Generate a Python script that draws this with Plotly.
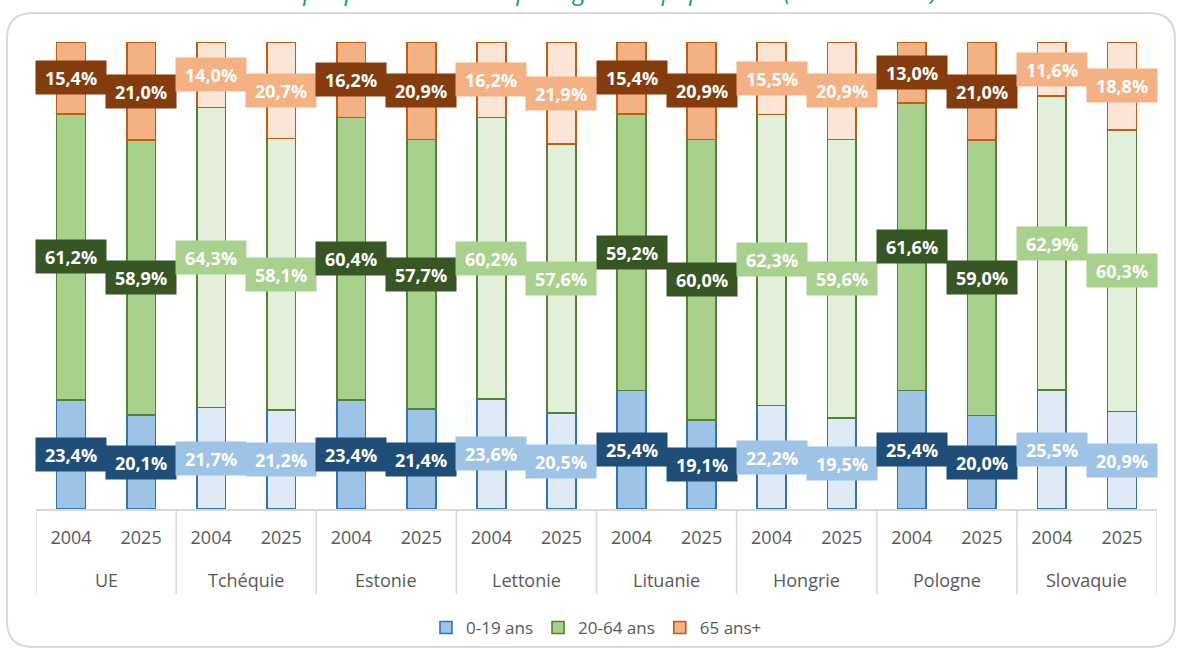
import plotly.graph_objects as go

# ---------------- data ----------------
countries = ["UE", "Tchéquie", "Estonie", "Lettonie", "Lituanie", "Hongrie", "Pologne", "Slovaquie"]
years = ["2004", "2025"]
age_groups = ["0-19 ans", "20-64 ans", "65 ans+"]

# values per country: [2004, 2025]
young = [[23.4, 20.1], [21.7, 21.2], [23.4, 21.4], [23.6, 20.5],
         [25.4, 19.1], [22.2, 19.5], [25.4, 20.0], [25.5, 20.9]]
working = [[61.2, 58.9], [64.3, 58.1], [60.4, 57.7], [60.2, 57.6],
           [59.2, 60.0], [62.3, 59.6], [61.6, 59.0], [62.9, 60.3]]
old = [[15.4, 21.0], [14.0, 20.7], [16.2, 20.9], [16.2, 21.9],
       [15.4, 20.9], [15.5, 20.9], [13.0, 21.0], [11.6, 18.8]]

# ---------------- styles ----------------
dark_group = [True, False, True, False, True, False, True, False]
fill_dark = ["#9DC3E6", "#A9D18E", "#F4B183"]
fill_light = ["#DEEBF7", "#E2F0D9", "#FBE5D6"]
edge = ["#2E75B6", "#548235", "#C55A11"]
lab_dark = ["#1F4E79", "#375623", "#843C0C"]
lab_light = ["#9DC3E6", "#A9D18E", "#F4B183"]
FONT = "Open Sans"

# plot area in pixels
L, R, T, B = 36, 1157, 42, 509
W, H = R - L, B - T


def px(xp, yp):
    return (xp - L) / W, (B - yp) / H


series = [young, working, old]
n = len(countries) * len(years)
xs = list(range(n))
tick_text = [y for _ in countries for y in years]

fig = go.Figure()
for k, name in enumerate(age_groups):
    vals, fills = [], []
    for ci, c in enumerate(countries):
        for yi in range(len(years)):
            vals.append(series[k][ci][yi])
            fills.append(fill_dark[k] if dark_group[ci] else fill_light[k])
    fig.add_trace(go.Bar(
        x=xs, y=vals, name=name, width=0.41,
        marker=dict(color=fills, line=dict(color=edge[k], width=1.6)),
        hoverinfo="skip",
    ))

annotations = []
# data labels
for ci, c in enumerate(countries):
    for yi in range(len(years)):
        xi = ci * len(years) + yi
        base = 0.0
        for k in range(3):
            v = series[k][ci][yi]
            mid = base + v / 2
            base += v
            annotations.append(dict(
                x=xi, y=mid, xref="x", yref="y",
                text=f"{v:.1f}%".replace(".", ","),
                showarrow=False, width=70, height=33, borderpad=0,
                bgcolor=lab_dark[k] if dark_group[ci] else lab_light[k],
                font=dict(family=FONT, size=18, color="white", weight="bold"),
            ))

# country labels
for ci, c in enumerate(countries):
    annotations.append(dict(
        x=ci * len(years) + (len(years) - 1) / 2, y=px(0, 580)[1],
        xref="x", yref="paper", text=c, showarrow=False, yanchor="middle",
        font=dict(family=FONT, size=18, color="#595959"),
    ))

# title (partially clipped at top, as in reference)
annotations.append(dict(
    x=px(600, 0)[0], y=px(0, 9)[1], xref="paper", yref="paper",
    xanchor="center", yanchor="bottom", showarrow=False,
    text="Graphique 4 : structure par âge de la population (2004 vs 2025)",
    font=dict(family=FONT, size=24, color="#0A9A8C", style="italic"),
))

shapes = []
# group dividers
for ci in range(len(countries) + 1):
    shapes.append(dict(
        type="line", xref="x", yref="paper",
        x0=ci * len(years) - 0.5, x1=ci * len(years) - 0.5,
        y0=0, y1=px(0, 594)[1],
        line=dict(color="#D9D9D9", width=1.5),
    ))

# rounded outer frame
x0, x1, y0, y1, r = 7, 1175, 13, 647, 26


def p(a, b):
    u, v = px(a, b)
    return f"{u:.5f},{v:.5f}"


path = (f"M {p(x0 + r, y0)} L {p(x1 - r, y0)} Q {p(x1, y0)} {p(x1, y0 + r)} "
        f"L {p(x1, y1 - r)} Q {p(x1, y1)} {p(x1 - r, y1)} "
        f"L {p(x0 + r, y1)} Q {p(x0, y1)} {p(x0, y1 - r)} "
        f"L {p(x0, y0 + r)} Q {p(x0, y0)} {p(x0 + r, y0)} Z")
shapes.append(dict(type="path", xref="paper", yref="paper", path=path,
                   line=dict(color="#D9D9D9", width=2), layer="below"))

fig.update_layout(
    width=1179, height=655,
    margin=dict(l=L, r=1179 - R, t=T, b=655 - B, autoexpand=False),
    barmode="stack", bargap=0.59,
    plot_bgcolor="white", paper_bgcolor="white",
    showlegend=True,
    legend=dict(orientation="h", x=0.5, xanchor="center", y=px(0, 628)[1], yanchor="middle",
                font=dict(family=FONT, size=17, color="#595959"), traceorder="normal",
                itemwidth=30),
    xaxis=dict(range=[-0.5, n - 0.5], tickvals=xs, ticktext=tick_text,
               showgrid=False, zeroline=False, showline=True, linecolor="#D9D9D9", linewidth=1.5,
               ticks="", ticklabelstandoff=12,
               tickfont=dict(family=FONT, size=18, color="#595959"), fixedrange=True),
    yaxis=dict(range=[0, 100], visible=False, showgrid=False, fixedrange=True),
    annotations=annotations, shapes=shapes,
    font=dict(family=FONT),
)

fig.write_html("out.html", config={"displayModeBar": False},
               post_script="document.body.style.margin='0px';")
